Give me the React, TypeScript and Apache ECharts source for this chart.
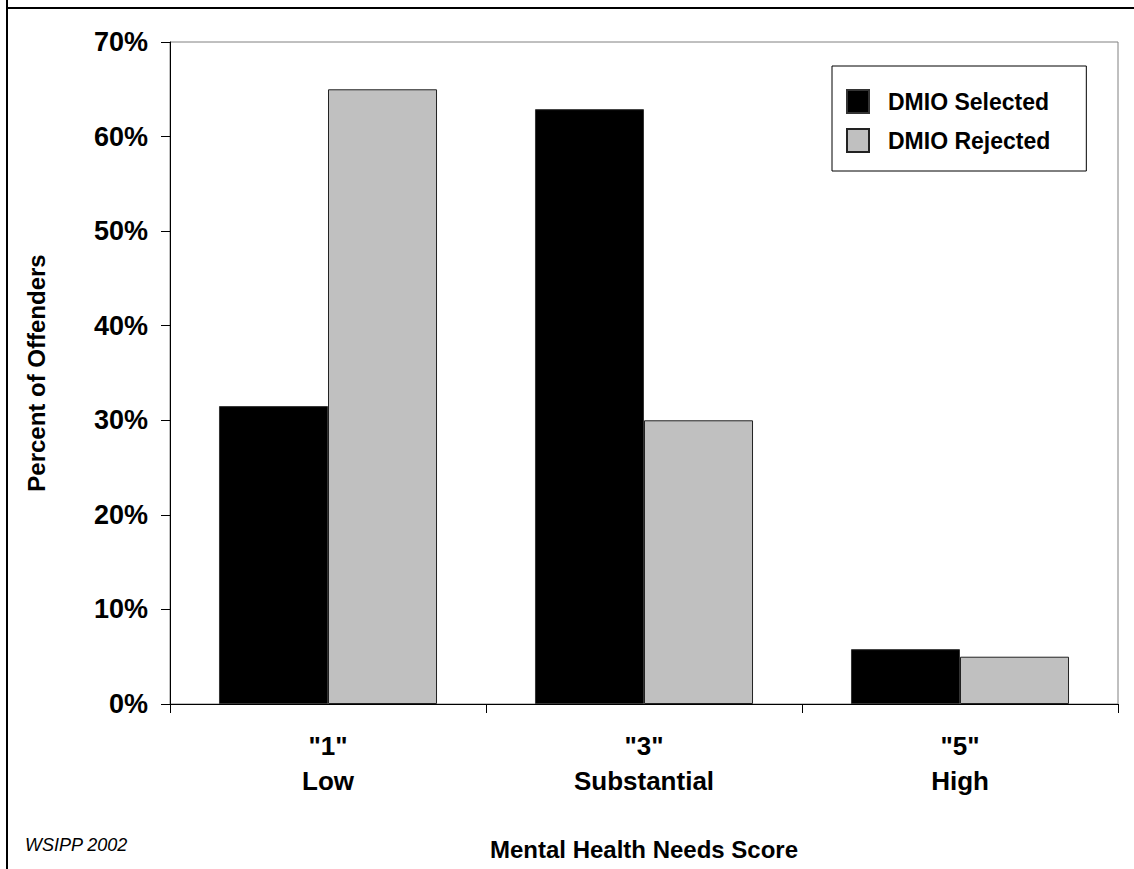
import React, { useEffect, useRef } from "react";
import * as echarts from "echarts";

const categories = ['"1"\nLow', '"3"\nSubstantial', '"5"\nHigh'];
const selectedValues = [31.5, 62.9, 5.8];
const rejectedValues = [65.0, 30.0, 5.0];
const seriesNames = ["DMIO Selected", "DMIO Rejected"];
const yTicks = { min: 0, max: 70, interval: 10 };

const FONT = 'Arial, "Liberation Sans", Helvetica, sans-serif';

export default function App() {
  const ref = useRef<HTMLDivElement>(null);

  useEffect(() => {
    if (!ref.current) return;
    const chart = echarts.init(ref.current, null, { renderer: "svg" });
    chart.setOption({
      animation: false,
      backgroundColor: "#ffffff",
      textStyle: { fontFamily: FONT, color: "#000" },
      grid: {
        left: 170,
        top: 42,
        right: 16,
        bottom: 165,
        show: true,
        borderColor: "#808080",
        borderWidth: 1,
        backgroundColor: "transparent",
      },
      legend: {
        orient: "vertical",
        left: 832,
        top: 66,
        padding: [23, 36, 18, 14],
        itemWidth: 22,
        itemHeight: 23,
        itemGap: 14,
        borderColor: "#000",
        borderWidth: 1,
        backgroundColor: "#fff",
        icon: "rect",
        textStyle: {
          fontFamily: FONT,
          fontSize: 23,
          fontWeight: "bold",
          color: "#000",
          padding: [0, 0, 0, 14],
        },
        data: seriesNames,
      },
      xAxis: {
        type: "category",
        data: categories,
        name: "Mental Health Needs Score",
        nameLocation: "middle",
        nameGap: 133,
        nameTextStyle: { fontFamily: FONT, fontSize: 24, fontWeight: "bold", color: "#000" },
        axisLine: { show: true, lineStyle: { color: "#000", width: 1 } },
        axisTick: { show: true, length: 9, lineStyle: { color: "#000" } },
        axisLabel: {
          margin: 24,
          fontFamily: FONT,
          fontSize: 26,
          fontWeight: "bold",
          color: "#000",
          lineHeight: 35,
          align: "center",
        },
        splitLine: { show: false },
      },
      yAxis: {
        type: "value",
        min: yTicks.min,
        max: yTicks.max,
        interval: yTicks.interval,
        name: "Percent of Offenders",
        nameLocation: "middle",
        nameRotate: 90,
        nameGap: 122,
        nameTextStyle: { fontFamily: FONT, fontSize: 24, fontWeight: "bold", color: "#000" },
        axisLine: { show: true, lineStyle: { color: "#000", width: 1 } },
        axisTick: { show: true, length: 9, lineStyle: { color: "#000" } },
        axisLabel: {
          formatter: "{value}%",
          margin: 22,
          fontFamily: FONT,
          fontSize: 27,
          fontWeight: "bold",
          color: "#000",
        },
        splitLine: { show: false },
      },
      series: [
        {
          name: seriesNames[0],
          type: "bar",
          data: selectedValues,
          barGap: "0%",
          barCategoryGap: "31%",
          itemStyle: { color: "#000000", borderColor: "#333", borderWidth: 1 },
        },
        {
          name: seriesNames[1],
          type: "bar",
          data: rejectedValues,
          barGap: "0%",
          barCategoryGap: "31%",
          itemStyle: { color: "#c0c0c0", borderColor: "#222", borderWidth: 1 },
        },
      ],
      graphic: [
        {
          type: "line",
          shape: { x1: 7, y1: 0, x2: 7, y2: 869 },
          style: { stroke: "#000", lineWidth: 2 },
          silent: true,
        },
        {
          type: "line",
          shape: { x1: 6, y1: 8, x2: 1134, y2: 8 },
          style: { stroke: "#000", lineWidth: 2 },
          silent: true,
        },
        {
          type: "text",
          left: 25,
          top: 836,
          style: {
            text: "WSIPP 2002",
            fontFamily: FONT,
            fontSize: 18,
            fontStyle: "italic",
            fill: "#000",
          },
          silent: true,
        },
      ],
    });
    return () => chart.dispose();
  }, []);

  return (
    <div
      ref={ref}
      style={{ position: "absolute", left: 0, top: 0, width: 1134, height: 869, background: "#fff" }}
    />
  );
}
